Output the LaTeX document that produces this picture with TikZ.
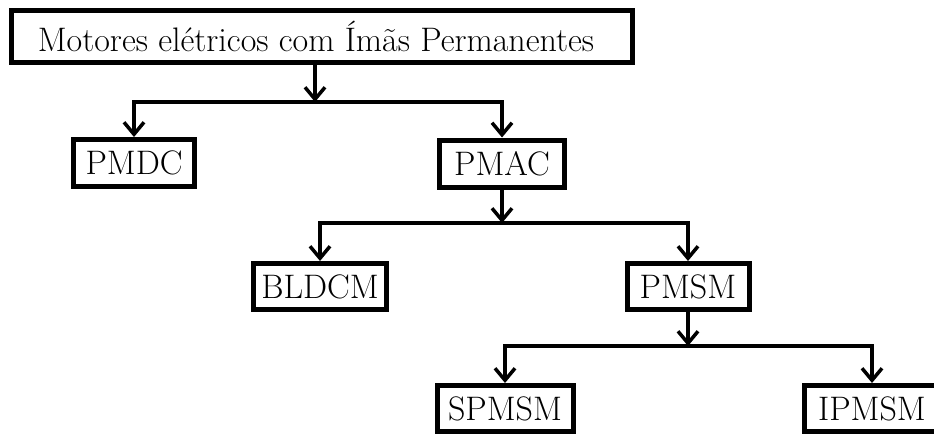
\documentclass[tikz,border=0pt]{standalone}
\usetikzlibrary{arrows.meta}
\begin{document}
\begin{tikzpicture}[x=1pt,y=-1pt,
  box/.style={draw, line width=5pt, inner sep=0pt, minimum width=#1,
    minimum height=47pt, font=\fontsize{34}{40}\selectfont},
  link/.style={line width=3.5pt, line cap=rect, line join=miter},
  feed/.style={line width=3.5pt,
    -{Straight Barb[length=12pt,width=20pt,line width=3.5pt]}}]
  \useasboundingbox (0,0) rectangle (934,434);

  % boxes of the classification tree
  \node[box=621pt, minimum height=52pt] (top) at (322,36.5)
    {Motores elétricos com Ímãs Permanentes\kern12pt};
  \node[box=121pt] (pmdc)  at (134,163) {PMDC};
  \node[box=125pt] (pmac)  at (502,163.5) {PMAC};
  \node[box=133pt, minimum height=46pt] (bldcm) at (320,286.5) {BLDCM};
  \node[box=122pt, minimum height=46pt] (pmsm)  at (688,286.5) {PMSM};
  \node[box=136pt, minimum height=46pt] (spmsm) at (505,408.5) {SPMSM};
  \node[box=136pt, minimum height=46pt] (ipmsm) at (872,408.5) {IPMSM};

  % junction points on the horizontal branch lines
  \coordinate (j1) at (315,102);
  \coordinate (j2) at (502,223);
  \coordinate (j3) at (688,346);

  % first level
  \draw[feed] (j1 |- top.south) -- (j1);
  \draw[link] (j1 -| pmdc) -- (j1 -| pmac);
  \draw[feed] (j1 -| pmdc) -- (pmdc.north);
  \draw[feed] (j1 -| pmac) -- (pmac.north);

  % second level
  \draw[feed] (pmac.south) -- (j2);
  \draw[link] (j2 -| bldcm) -- (j2 -| pmsm);
  \draw[feed] (j2 -| bldcm) -- (bldcm.north);
  \draw[feed] (j2 -| pmsm) -- (pmsm.north);

  % third level
  \draw[feed] (pmsm.south) -- (j3);
  \draw[link] (j3 -| spmsm) -- (j3 -| ipmsm);
  \draw[feed] (j3 -| spmsm) -- (spmsm.north);
  \draw[feed] (j3 -| ipmsm) -- (ipmsm.north);
\end{tikzpicture}
\end{document}
